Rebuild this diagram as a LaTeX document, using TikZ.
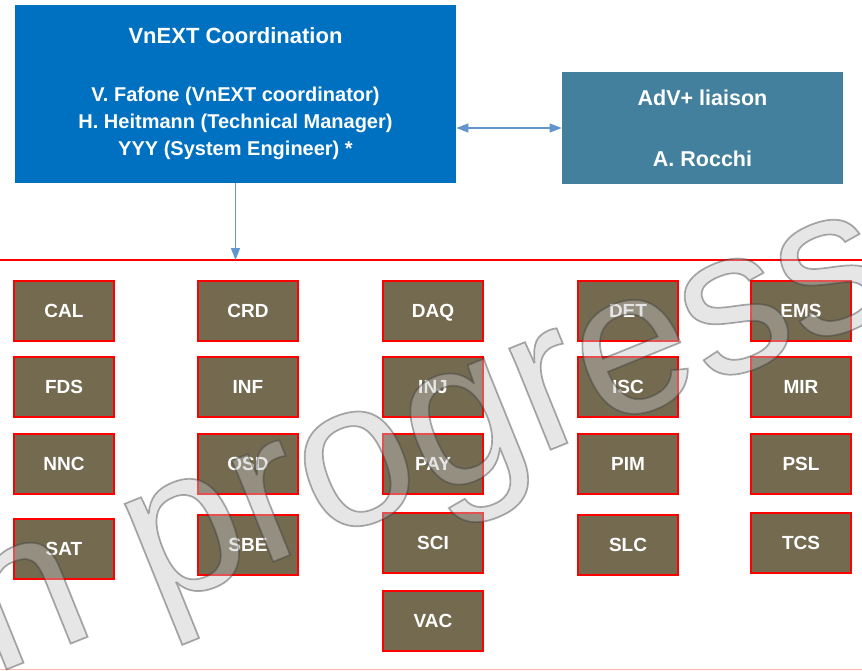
\documentclass[tikz,border=0pt]{standalone}
\usepackage{fontspec}
\setmainfont{Liberation Sans}
\usetikzlibrary{arrows.meta}

\definecolor{coordblue}{RGB}{0,112,192}
\definecolor{liaisonblue}{RGB}{66,128,157}
\definecolor{wgfill}{RGB}{115,106,80}
\definecolor{linkblue}{RGB}{98,148,205}
\definecolor{markfill}{RGB}{195,195,195}

% outlined text (fill and stroke)
\newcommand{\outlinetext}[1]{\special{pdf:literal direct 2 Tr 1.7 w 0.22 0.22 0.22 RG}#1\special{pdf:literal direct 0 Tr}}

\tikzset{every picture/.style={line width=0.75pt},
	coordbox/.style={fill=coordblue, draw=none, inner sep=0pt},
	liaisonbox/.style={fill=liaisonblue, draw=none, inner sep=0pt},
	whitetext/.style={text=white, inner sep=0pt, font=\bfseries\fontsize{20}{20}\selectfont},
	wgbox/.style={fill=wgfill, draw=red, line width=1.5pt, inner sep=0pt,
		minimum width=100, minimum height=60, text=white,
		text height=13.6, text depth=0, font=\bfseries\fontsize{19}{19}\selectfont},
	link/.style={draw=linkblue, line width=1.2pt, -{Triangle[length=12pt,width=9pt]}},
	wip/.style={inner sep=0pt, text=markfill, text opacity=0.42,
		font=\fontsize{207}{207}\selectfont}
}

\begin{document}
\begin{tikzpicture}[x=1pt,y=1pt,yscale=-1,xscale=1]
	\useasboundingbox (0,0) rectangle (862,670);

	%Shape: Rectangle [coordination]
	\node (coord) [coordbox, minimum width=441, minimum height=178] at (235.5,94) {};
	%Shape: Rectangle [liaison]
	\node (liaison) [liaisonbox, minimum width=281, minimum height=112] at (702.5,128) {};

	% Text Node
	\node (coordtitle) [whitetext, anchor=base, font=\bfseries\fontsize{22}{22}\selectfont] at (235.5,43) {VnEXT Coordination};
	% Text Node
	\node (fafone) [whitetext, anchor=base] at (235.5,101) {V. Fafone (VnEXT coordinator)};
	% Text Node
	\node (heitmann) [whitetext, anchor=base] at (235.5,128) {H. Heitmann (Technical Manager)};
	% Text Node
	\node (syseng) [whitetext, anchor=base] at (235.5,155) {YYY (System Engineer) *};
	% Text Node
	\node (liaisontitle) [whitetext, anchor=base, font=\bfseries\fontsize{21.5}{21.5}\selectfont] at (702.5,105.5) {AdV+ liaison};
	% Text Node
	\node (rocchi) [whitetext, anchor=base, font=\bfseries\fontsize{21.5}{21.5}\selectfont] at (702.5,166.5) {A. Rocchi};

	%Straight Lines [red bar]
	\coordinate (barleft) at (0,260);
	\coordinate (barright) at (862,260);
	\draw [red, line width=1.6pt] (barleft) -- (barright);
	%Straight Lines [bottom edge]
	\coordinate (edgeleft) at (0,669);
	\coordinate (edgeright) at (862,669);
	\draw [red!30, line width=1pt] (edgeleft) -- (edgeright);

	%Straight Lines [links]
	\draw [link, {Triangle[length=12pt,width=9pt]}-{Triangle[length=12pt,width=9pt]}] (coord.east |- liaison.west) -- (liaison.west);
	\draw [link] (coord.south) -- (coord.south |- barleft);

	%Shape: Rectangle [working groups, first column]
	\node (cal) [wgbox] at (64,311) {CAL};
	\node (fds) [wgbox] at (64,387) {FDS};
	\node (nnc) [wgbox] at (64,464) {NNC};
	\node (sat) [wgbox] at (64,549) {SAT};
	%Shape: Rectangle [second column]
	\node (crd) [wgbox] at (248,311) {CRD};
	\node (inf) [wgbox] at (248,387) {INF};
	\node (osd) [wgbox] at (248,464) {OSD};
	\node (sbe) [wgbox] at (248,545) {SBE};
	%Shape: Rectangle [third column]
	\node (daq) [wgbox] at (433,311) {DAQ};
	\node (inj) [wgbox] at (433,387) {INJ};
	\node (pay) [wgbox] at (433,464) {PAY};
	\node (sci) [wgbox] at (433,543) {SCI};
	\node (vac) [wgbox] at (433,621) {VAC};
	%Shape: Rectangle [fourth column]
	\node (det) [wgbox] at (628,311) {DET};
	\node (isc) [wgbox] at (628,387) {ISC};
	\node (pim) [wgbox] at (628,464) {PIM};
	\node (slc) [wgbox] at (628,545) {SLC};
	%Shape: Rectangle [fifth column]
	\node (ems) [wgbox] at (801,311) {EMS};
	\node (mir) [wgbox] at (801,387) {MIR};
	\node (psl) [wgbox] at (801,464) {PSL};
	\node (tcs) [wgbox] at (801,543) {TCS};

	% Text Node [watermark]
	\node (progress) [wip, anchor=base west, rotate=22] at (-7,675) {\outlinetext{n progress}};

\end{tikzpicture}
\end{document}
